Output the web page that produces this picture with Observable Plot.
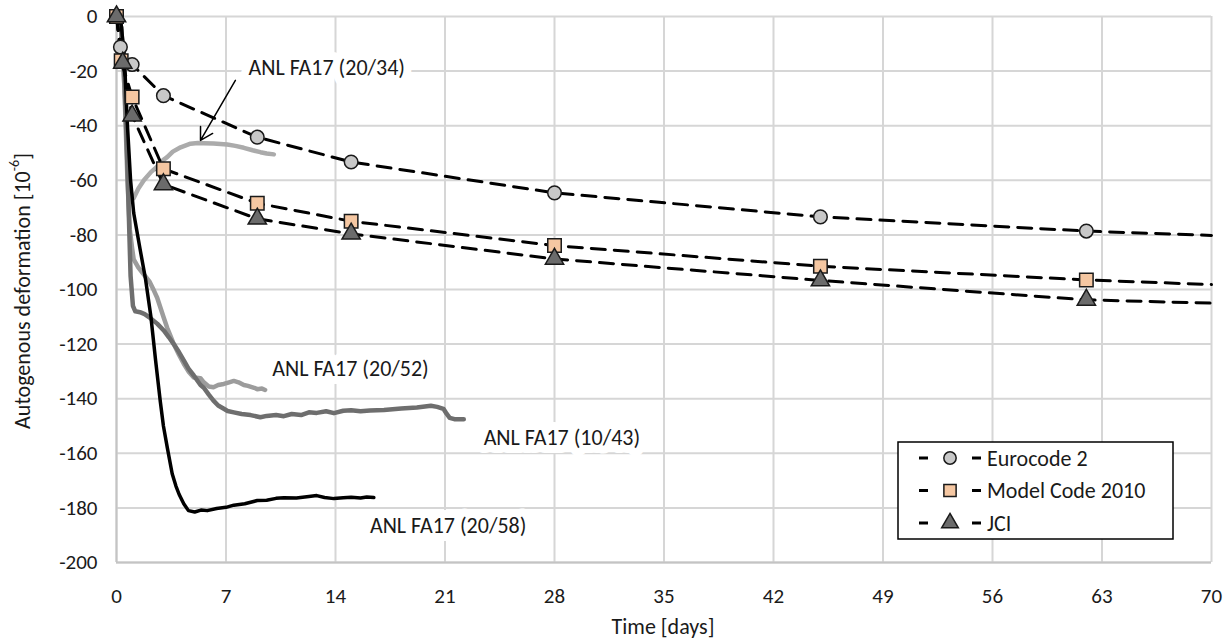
<!DOCTYPE html>
<html>
<head>
<meta charset="utf-8">
<script src="https://cdn.jsdelivr.net/npm/d3@7"></script>
<script src="https://cdn.jsdelivr.net/npm/@observablehq/plot@0.6"></script>
<style>
  html, body { margin: 0; padding: 0; background: #fff; }
  #chart { position: relative; width: 1231px; height: 640px; }
</style>
</head>
<body>
<div id="chart"></div>
<script>
// Axis ticks
const xTicks = [0, 7, 14, 21, 28, 35, 42, 49, 56, 63, 70];
const yTicks = [0, -20, -40, -60, -80, -100, -120, -140, -160, -180, -200];

// Model predictions (time in days, deformation in 10^-6)
const ec2Days = [0, 0.25, 1, 3, 9, 15, 28, 45, 62, 70];
const ec2Vals = [0, -11.2, -17.6, -29, -44.2, -53.3, -64.6, -73.4, -78.6, -80.2];
const ec2Marked = [true, true, true, true, true, true, true, true, true, false];

const mcDays = [0, 0.3, 1, 3, 9, 15, 28, 45, 62, 70];
const mcVals = [0, -16.2, -29.5, -55.8, -68.4, -75, -83.9, -91.5, -96.5, -98.2];
const mcMarked = [true, true, true, true, true, true, true, true, true, false];

const jciDays = [0, 0.4, 1, 3, 9, 15, 28, 45, 62, 70];
const jciVals = [0, -17, -36.3, -61.5, -74.1, -79.6, -88.8, -96.7, -103.8, -105];
const jciMarked = [true, true, true, true, true, true, true, true, true, false];

// Measured autogenous deformation, ANL FA17 specimens
const anl2034Days = [0, 0.3, 0.5, 0.7, 0.85, 1.0, 1.1, 1.4, 1.75, 2.2, 2.6, 3.0, 3.24, 3.6, 4.1, 4.73, 5.2, 5.56, 6.2, 7.08, 7.6, 8.14, 8.7, 9.2, 9.6, 10.06];
const anl2034Vals = [0, -5, -25, -52, -68, -67, -66.5, -63, -60, -57, -55, -52.5, -51.5, -49.5, -47.9, -46.6, -46.3, -46.4, -46.5, -46.9, -47.4, -48.1, -49, -49.7, -50.2, -50.5];

const anl2052Days = [0, 0.3, 0.5, 0.7, 0.85, 1.0, 1.1, 1.4, 1.75, 2.1, 2.4, 2.6, 2.8, 3.0, 3.24, 3.45, 3.66, 4.0, 4.3, 4.6, 4.94, 5.37, 5.58, 5.9, 6.2, 6.5, 6.86, 7.2, 7.5, 7.8, 8.14, 8.4, 8.8, 9.0, 9.3, 9.5];
const anl2052Vals = [0, -4, -25, -60, -78, -85, -89, -92, -94.5, -97, -100.5, -103, -106.5, -110, -114, -117, -120, -124, -127.2, -130, -132.2, -132.5, -134, -135.5, -135.8, -135, -134.6, -134, -133.5, -134, -135, -135.3, -136, -136.5, -136.3, -136.8];

const anl1043Days = [0, 0.3, 0.5, 0.7, 0.8, 0.9, 1.05, 1.2, 1.5, 1.8, 2.17, 2.6, 3.02, 3.35, 3.66, 4.0, 4.3, 4.6, 4.94, 5.37, 5.58, 5.9, 6.2, 6.5, 6.86, 7.1, 7.5, 8.0, 8.57, 9.2, 9.6, 10.2, 10.7, 11.2, 11.8, 12.3, 12.8, 13.4, 13.9, 14.5, 15.0, 15.6, 16.2, 17.1, 18.2, 19.2, 20.1, 20.5, 20.9, 21.1, 21.3, 21.6, 22.2];
const anl1043Vals = [0, -4, -20, -55, -75, -95, -106, -108, -108.3, -109, -110.5, -112.5, -115, -117.5, -120, -123, -126, -129, -131.5, -135, -136, -138.5, -140.7, -142.5, -143.7, -144.5, -145, -145.6, -146, -146.8, -146.3, -146, -146.4, -145.6, -146, -145, -145.2, -144.6, -145.3, -144.4, -144.2, -144.6, -144.3, -144.1, -143.6, -143.2, -142.6, -143, -143.7, -145.5, -147, -147.5, -147.5];

const anl2058Days = [0, 0.3, 0.5, 0.7, 0.9, 1.1, 1.5, 1.85, 2.2, 2.5, 2.8, 3.0, 3.25, 3.56, 3.8, 4.0, 4.3, 4.6, 5.0, 5.4, 5.8, 6.4, 7.0, 7.5, 8.2, 9.0, 9.6, 10.2, 10.7, 11.5, 12.3, 12.8, 13.3, 13.9, 14.5, 15.0, 15.6, 16.0, 16.45];
const anl2058Vals = [0, -3, -15, -40, -60, -72, -85, -96, -110, -126, -141, -150, -158, -167.5, -172, -175, -178.5, -181, -181.5, -180.8, -181, -180.2, -179.8, -179, -178.5, -177.3, -177.2, -176.5, -176.3, -176.4, -175.8, -175.5, -176.2, -176.6, -176.3, -176.1, -176.4, -176, -176.2];

// In-chart labels for the measured curves (label anchor in data units)
const curveLabels = ["ANL FA17 (20/34)", "ANL FA17 (20/52)", "ANL FA17 (10/43)", "ANL FA17 (20/58)"];
const labelDays = [8.44, 9.96, 23.47, 16.2];
const labelVals = [-19, -129, -154.2, -186.7];

// Pointer from the (20/34) label to its curve
const arrowFrom = [7.6, -23.4];
const arrowTo = [5.37, -45.4];

const seriesNames = ["Eurocode 2", "Model Code 2010", "JCI"];

const toRows = (days, vals, extra = {}) => days.map((d, i) => ({day: d, val: vals[i], ...Object.fromEntries(Object.entries(extra).map(([k, v]) => [k, v[i]]))}));

const ec2 = toRows(ec2Days, ec2Vals, {marked: ec2Marked});
const mc = toRows(mcDays, mcVals, {marked: mcMarked});
const jci = toRows(jciDays, jciVals, {marked: jciMarked});
const labelRows = curveLabels.map((t, i) => ({text: t, day: labelDays[i], val: labelVals[i]}));

const FONT = "Carlito, Lato, 'Open Sans', sans-serif";
const TEXT_SIZE = 22;
const TICK_SIZE = 21;
const gridColor = "#d6d6d6";

const dashed = {x: "day", y: "val", stroke: "#000", strokeWidth: 3, strokeDasharray: "14,9"};
const measured = (rows, color, w) => Plot.line(rows, {x: "day", y: "val", stroke: color, strokeWidth: w, strokeLinejoin: "round", strokeLinecap: "round"});
const plain = d => String(d);

const chart = Plot.plot({
  width: 1231,
  height: 640,
  marginLeft: 116,
  marginRight: 20,
  marginTop: 16,
  marginBottom: 78,
  style: {fontFamily: FONT, fontSize: `${TICK_SIZE}px`, color: "#1a1a1a", background: "#fff"},
  x: {domain: [0, 70], label: null},
  y: {domain: [-200, 0], label: null},
  marks: [
    Plot.gridX(xTicks, {stroke: gridColor, strokeOpacity: 1, strokeWidth: 2}),
    Plot.gridY(yTicks, {stroke: gridColor, strokeOpacity: 1, strokeWidth: 2}),
    Plot.ruleY([-200], {stroke: "#c4c4c4", strokeWidth: 2}),
    Plot.ruleX([0], {stroke: "#c4c4c4", strokeWidth: 2}),
    Plot.axisX(xTicks, {tickSize: 0, tickPadding: 26, fontSize: TICK_SIZE, fill: "#1a1a1a", tickFormat: plain}),
    Plot.axisY(yTicks, {tickSize: 0, tickPadding: 19, fontSize: TICK_SIZE, fill: "#1a1a1a", tickFormat: plain}),
    Plot.text(labelRows, {x: "day", y: "val", text: "text", textAnchor: "start", fontSize: TEXT_SIZE, fill: "#1a1a1a", stroke: "#fff", strokeWidth: 16}),
    measured(toRows(anl2034Days, anl2034Vals), "#ababab", 4.5),
    measured(toRows(anl2052Days, anl2052Vals), "#9c9c9c", 4.5),
    measured(toRows(anl1043Days, anl1043Vals), "#6e6e6e", 4.5),
    measured(toRows(anl2058Days, anl2058Vals), "#000", 3.5),
    Plot.arrow([{x1: arrowFrom[0], y1: arrowFrom[1], x2: arrowTo[0], y2: arrowTo[1]}], {x1: "x1", y1: "y1", x2: "x2", y2: "y2", stroke: "#000", strokeWidth: 1.5, headLength: 14, bend: 0}),
    Plot.line(ec2, dashed),
    Plot.line(mc, dashed),
    Plot.line(jci, dashed),
    Plot.dot(ec2.filter(d => d.marked), {x: "day", y: "val", symbol: "circle", r: 6.8, fill: "#c8c8c8", stroke: "#1a1a1a", strokeWidth: 1.5}),
    Plot.dot(mc.filter(d => d.marked), {x: "day", y: "val", symbol: "square", r: 7.6, fill: "#f5c7a2", stroke: "#1a1a1a", strokeWidth: 1.5}),
    Plot.dot(jci.filter(d => d.marked), {x: "day", y: "val", symbol: "triangle", r: 6.8, fill: "#6b6b6b", stroke: "#1a1a1a", strokeWidth: 1.5})
  ]
});

document.getElementById("chart").appendChild(chart);

const svg = d3.select(chart);

// Axis titles
const yTitle = svg.append("text")
  .attr("transform", "translate(22,291) rotate(-90)")
  .attr("text-anchor", "middle")
  .attr("dominant-baseline", "central")
  .style("font-family", FONT).style("font-size", `${TEXT_SIZE}px`).attr("fill", "#1a1a1a");
yTitle.append("tspan").text("Autogenous deformation [10");
yTitle.append("tspan").attr("dy", "-8").style("font-size", "14px").text("-6");
yTitle.append("tspan").attr("dy", "8").text("]");

svg.append("text")
  .attr("x", 663).attr("y", 626)
  .attr("text-anchor", "middle").attr("dominant-baseline", "central")
  .style("font-family", FONT).style("font-size", `${TEXT_SIZE}px`).attr("fill", "#1a1a1a")
  .text("Time [days]");

// Legend box in the lower right of the plot area
const legend = svg.append("g").attr("transform", "translate(898,442)");
legend.append("rect").attr("width", 275).attr("height", 97)
  .attr("fill", "#fff").attr("stroke", "#000").attr("stroke-width", 1.5);
const legendSymbols = [
  {sym: d3.symbolCircle, size: 120, fill: "#c8c8c8"},
  {sym: d3.symbolSquare, size: 150, fill: "#f5c7a2"},
  {sym: d3.symbolTriangle, size: 120, fill: "#6b6b6b"}
];
seriesNames.forEach((name, i) => {
  const row = legend.append("g").attr("transform", `translate(0,${16 + i * 32.5})`);
  row.append("line").attr("x1", 21).attr("x2", 83).attr("y1", 0).attr("y2", 0)
    .attr("stroke", "#000").attr("stroke-width", 3).attr("stroke-dasharray", "9,44,9");
  row.append("path").attr("transform", "translate(52,0)")
    .attr("d", d3.symbol(legendSymbols[i].sym, legendSymbols[i].size)())
    .attr("fill", legendSymbols[i].fill).attr("stroke", "#1a1a1a").attr("stroke-width", 1.5);
  row.append("text").attr("x", 89).attr("y", 0)
    .attr("text-anchor", "start").attr("dominant-baseline", "central")
    .style("font-family", FONT).style("font-size", `${TEXT_SIZE}px`).attr("fill", "#1a1a1a")
    .text(name);
});
</script>
</body>
</html>
